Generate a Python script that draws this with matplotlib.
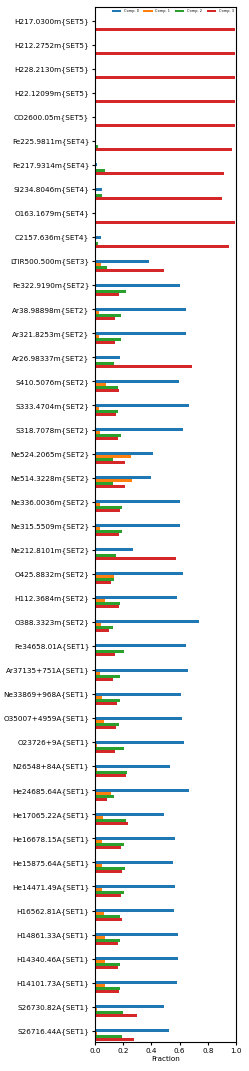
import numpy as np
import matplotlib
matplotlib.use("Agg")
import matplotlib.pyplot as plt

labels = [
	"H217.0300m{SET5}", "H212.2752m{SET5}", "H228.2130m{SET5}", "H22.12099m{SET5}",
	"CO2600.05m{SET5}", "Fe225.9811m{SET4}", "Fe217.9314m{SET4}", "Si234.8046m{SET4}",
	"O163.1679m{SET4}", "C2157.636m{SET4}", "LTIR500.500m{SET3}", "Fe322.9190m{SET2}",
	"Ar38.98898m{SET2}", "Ar321.8253m{SET2}", "Ar26.98337m{SET2}", "S410.5076m{SET2}",
	"S333.4704m{SET2}", "S318.7078m{SET2}", "Ne524.2065m{SET2}", "Ne514.3228m{SET2}",
	"Ne336.0036m{SET2}", "Ne315.5509m{SET2}", "Ne212.8101m{SET2}", "O425.8832m{SET2}",
	"H112.3684m{SET2}", "O388.3323m{SET2}", "Fe34658.01A{SET1}", "Ar37135+751A{SET1}",
	"Ne33869+968A{SET1}", "O35007+4959A{SET1}", "O23726+9A{SET1}", "N26548+84A{SET1}",
	"He24685.64A{SET1}", "He17065.22A{SET1}", "He16678.15A{SET1}", "He15875.64A{SET1}",
	"He14471.49A{SET1}", "H16562.81A{SET1}", "H14861.33A{SET1}", "H14340.46A{SET1}",
	"H14101.73A{SET1}", "S26730.82A{SET1}", "S26716.44A{SET1}",
]

comp0 = [0.002, 0.002, 0.002, 0.002, 0.002, 0.010, 0.016, 0.052, 0.005, 0.040,
	0.382, 0.604, 0.644, 0.646, 0.179, 0.594, 0.667, 0.627, 0.413, 0.399,
	0.604, 0.604, 0.269, 0.625, 0.585, 0.741, 0.645, 0.663, 0.613, 0.618,
	0.630, 0.533, 0.667, 0.490, 0.566, 0.554, 0.568, 0.561, 0.590, 0.587,
	0.583, 0.490, 0.526]
comp1 = [0.001, 0.001, 0.001, 0.001, 0.001, 0.002, 0.002, 0.002, 0.002, 0.002,
	0.045, 0.010, 0.031, 0.031, 0.007, 0.080, 0.028, 0.033, 0.255, 0.262,
	0.038, 0.038, 0.007, 0.132, 0.071, 0.040, 0.010, 0.035, 0.050, 0.064,
	0.017, 0.017, 0.113, 0.057, 0.047, 0.050, 0.047, 0.068, 0.071, 0.071,
	0.071, 0.014, 0.014]
comp2 = [0.002, 0.002, 0.002, 0.002, 0.002, 0.020, 0.075, 0.052, 0.002, 0.019,
	0.087, 0.222, 0.186, 0.184, 0.134, 0.165, 0.163, 0.182, 0.130, 0.130,
	0.189, 0.189, 0.153, 0.134, 0.179, 0.127, 0.208, 0.177, 0.177, 0.170,
	0.208, 0.226, 0.134, 0.222, 0.205, 0.210, 0.205, 0.179, 0.177, 0.177,
	0.177, 0.200, 0.189]
comp3 = [0.995, 0.995, 0.995, 0.995, 0.995, 0.974, 0.913, 0.900, 0.995, 0.948,
	0.493, 0.172, 0.144, 0.144, 0.689, 0.170, 0.149, 0.163, 0.210, 0.215,
	0.175, 0.172, 0.578, 0.111, 0.170, 0.097, 0.146, 0.130, 0.158, 0.149,
	0.146, 0.222, 0.087, 0.236, 0.184, 0.191, 0.184, 0.193, 0.163, 0.165,
	0.170, 0.297, 0.276]

comps = [comp0, comp1, comp2, comp3]
comp_names = ["Comp. 0", "Comp. 1", "Comp. 2", "Comp. 3"]

y = np.arange(len(labels))
h = 0.125

fig = plt.figure(figsize=(2.49, 10.71), dpi=100)
ax = fig.add_axes([0.381, 0.027, 0.567, 0.9665])
for i, vals in enumerate(comps):
	ax.barh(y + i * h, vals, height=h, color=f"C{i}", label=comp_names[i])

ax.set_yticks(y)
ax.set_yticklabels(labels, fontsize=5.2)
ax.set_ylim(42.47, -0.57)
ax.set_xlim(0, 1.0)
ax.set_xticks([0, 0.2, 0.4, 0.6, 0.8, 1.0])
ax.tick_params(axis='x', labelsize=5.2, length=2.5, pad=1.5)
ax.tick_params(axis='y', length=2.5, pad=1.5)
ax.set_xlabel("Fraction", fontsize=5.2, labelpad=1.5)
ax.legend(loc='upper right', ncol=4, fontsize=2.5, frameon=False,
	handlelength=2.6, columnspacing=1.4, borderaxespad=0.3)

fig.savefig("out.png", dpi=100)
